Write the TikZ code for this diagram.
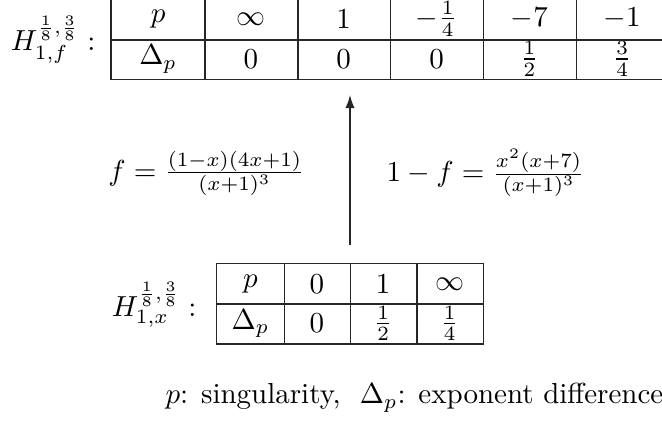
\documentclass[tikz,border=0pt]{standalone}
\usetikzlibrary{arrows.meta}
\begin{document}
\begin{tikzpicture}[x=0.345pt,y=-0.345pt,
  cellA/.style={minimum width=32pt, minimum height=13.6pt, inner sep=0pt},
  cellAtop/.style={cellA, minimum height=14.1pt},
  cellB/.style={minimum width=22.9pt, minimum height=13.6pt, inner sep=0pt},
  lbl/.style={inner sep=0pt},
  grid/.style={line width=0.5pt, draw=black!85},
  arr/.style={line width=0.5pt, draw=black!85, -{Latex[length=4.5pt,width=3.2pt]}}]
\useasboundingbox (0,0) rectangle (662,426);
% top table
\foreach \t [count=\i] in {p,\infty,1,-\frac{1}{4},-7,-1}
  \node[cellAtop] (t\i) at ({111.7+92.8*(\i-0.5)},18.8) {$\t$};
\foreach \t [count=\i] in {\Delta_p,0,0,0,\frac{1}{2},\frac{3}{4}}
  \node[cellA] (d\i) at ({111.7+92.8*(\i-0.5)},59.0) {$\t$};
\draw[grid] (t1.north west) rectangle (d6.south east);
\draw[grid] (t1.south west) -- (t6.south east);
\foreach \i in {1,...,5} \draw[grid] (t\i.north east) -- (d\i.south east);
\node[lbl, anchor=east] (Hf) at (96,40) {$H^{\frac{1}{8},\frac{3}{8}}_{1,f}:$};
% bottom table
\foreach \t [count=\i] in {p,0,1,\infty}
  \node[cellB] (u\i) at ({217.3+66.35*(\i-0.5)},283.8) {$\t$};
\foreach \t [count=\i] in {\Delta_p,0,\frac{1}{2},\frac{1}{4}}
  \node[cellB] (v\i) at ({217.3+66.35*(\i-0.5)},323.5) {$\t$};
\draw[grid] (u1.north west) rectangle (v4.south east);
\draw[grid] (u1.south west) -- (u4.south east);
\foreach \i in {1,...,3} \draw[grid] (u\i.north east) -- (v\i.south east);
\node[lbl, anchor=east] (Hx) at (197,305) {$H^{\frac{1}{8},\frac{3}{8}}_{1,x}:$};
% arrow and equations
\coordinate (aS) at (350,245);
\coordinate (aE) at (350,95);
\draw[arr] (aS) -- (aE);
\node[lbl, anchor=east] (eqL) at (305,173) {$f = \frac{(1-x)(4x+1)}{(x+1)^3}$};
\node[lbl, anchor=west] (eqR) at (386,173) {$1 - f = \frac{x^2(x+7)}{(x+1)^3}$};
% note
\node[lbl, anchor=base west] (note) at (165,404) {$p$: singularity, \ $\Delta_p$: exponent difference};
\end{tikzpicture}
\end{document}
